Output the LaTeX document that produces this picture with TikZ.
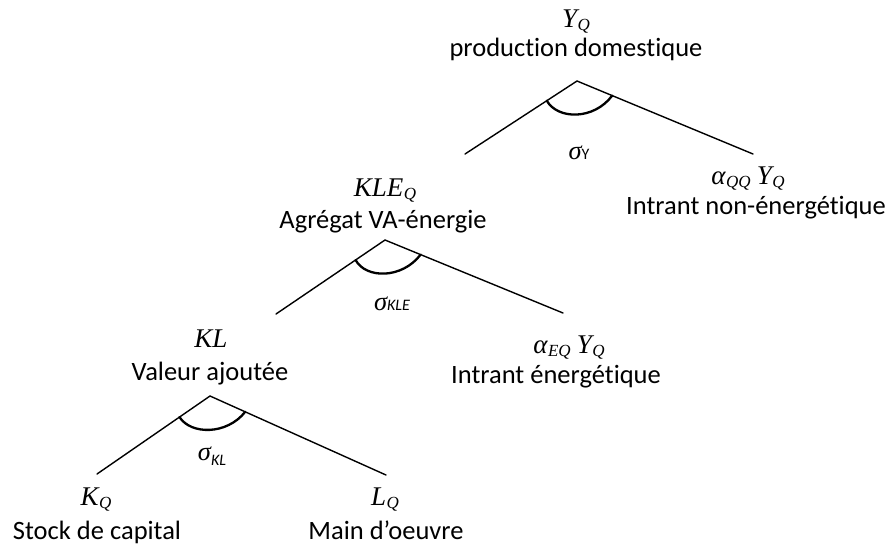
\documentclass[tikz,border=0pt]{standalone}
\usepackage{fontspec}
\setmainfont[Ligatures=NoCommon]{Carlito}
\setsansfont[Ligatures=NoCommon]{Carlito}
\newfontfamily\mfont{Liberation Serif}
\usetikzlibrary{calc}
\newcommand{\smallsub}[1]{{\fontsize{16}{16}\selectfont #1}}
% math-like variable with subscript, Cambria-like look
\newcommand{\mvar}[2]{{\mfont\itshape #1\hspace{0.5pt}\raisebox{-3.5pt}{\fontsize{17}{17}\selectfont #2}}}
\begin{document}
\begin{tikzpicture}[x=1pt,y=-1pt,
  branch/.style={line width=1.4pt, line cap=round},
  elast/.style={line width=2.3pt, line cap=round},
  lab/.style={anchor=base, inner sep=0pt, font=\fontsize{26.5}{30}\selectfont},
  mlab/.style={anchor=base, inner sep=0pt, font=\fontsize{27}{30}\selectfont},
]
\useasboundingbox (0,0) rectangle (890,550);

% ---------- top level ----------
\coordinate (Yapex) at (577,81);
\coordinate (Yl) at (465,154);
\coordinate (Yr) at (753,154);
\draw[branch] (Yl) -- (Yapex) -- (Yr);
\coordinate (Ya1) at ($(Yapex)!0.27!(Yl)$);
\coordinate (Ya2) at ($(Yapex)!0.2!(Yr)$);
\draw[elast] (Ya1) .. controls ($(Yapex)+(-19,39)$) and ($(Yapex)+(17,39)$) .. (Ya2);
\node[mlab] (YQ) at (576,27) {\mvar{Y}{Q}};
\node[lab] (Ytxt) at (576,56) {production domestique};
\node[lab] (sY) at (579,159) {{\mfont\itshape σ}\smallsub{Y}};
\node[mlab] (aQQ) at (748,184) {\mvar{α}{QQ} \mvar{Y}{Q}};
\node[lab] (NEtxt) at (756,214) {Intrant non-énergétique};

% ---------- middle level ----------
\coordinate (Mapex) at (385,240);
\coordinate (Ml) at (276,314);
\coordinate (Mr) at (563,313);
\draw[branch] (Ml) -- (Mapex) -- (Mr);
\coordinate (Ma1) at ($(Mapex)!0.27!(Ml)$);
\coordinate (Ma2) at ($(Mapex)!0.2!(Mr)$);
\draw[elast] (Ma1) .. controls ($(Mapex)+(-19,39)$) and ($(Mapex)+(17,39)$) .. (Ma2);
\node[mlab] (KLEQ) at (385,196) {\mvar{KLE}{Q}};
\node[lab] (Mtxt) at (383,228) {Agrégat VA-énergie};
\node[lab] (sKLE) at (392,310) {{\mfont\itshape σ}\smallsub{\itshape KLE}};
\node[mlab] (aEQ) at (569,353) {\mvar{α}{EQ} \mvar{Y}{Q}};
\node[lab] (Etxt) at (556,383) {Intrant énergétique};

% ---------- bottom level ----------
\coordinate (Bapex) at (210,396);
\coordinate (Bl) at (97,474);
\coordinate (Br) at (386,475);
\draw[branch] (Bl) -- (Bapex) -- (Br);
\coordinate (Ba1) at ($(Bapex)!0.27!(Bl)$);
\coordinate (Ba2) at ($(Bapex)!0.2!(Br)$);
\draw[elast] (Ba1) .. controls ($(Bapex)+(-19,39)$) and ($(Bapex)+(17,39)$) .. (Ba2);
\node[mlab] (KL) at (211,347) {{\mfont\itshape KL}};
\node[lab] (Btxt) at (210,380) {Valeur ajoutée};
\node[lab] (sKL) at (212,460) {{\mfont\itshape σ}\raisebox{-5pt}{\smallsub{\itshape KL}}};
\node[mlab] (KQ) at (96,505) {\mvar{K}{Q}};
\node[lab] (Ktxt) at (97,539) {Stock de capital};
\node[mlab] (LQ) at (385,505) {\mvar{L}{Q}};
\node[lab] (Ltxt) at (386,539) {Main d’oeuvre};
\end{tikzpicture}
\end{document}
